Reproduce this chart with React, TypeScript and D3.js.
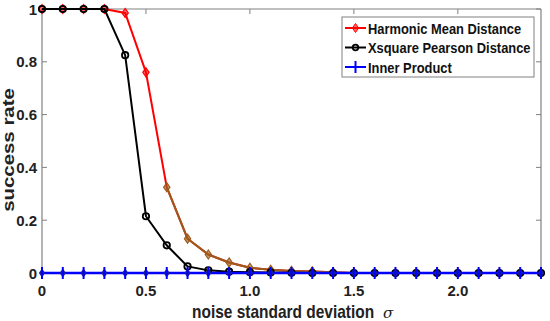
import React from 'react';
import * as d3 from 'd3';

const sigma = [0, 0.1, 0.2, 0.3, 0.4, 0.5, 0.6, 0.7, 0.8, 0.9, 1.0, 1.1, 1.2, 1.3, 1.4, 1.5, 1.6, 1.7, 1.8, 1.9, 2.0, 2.1, 2.2, 2.3, 2.4];
const harmonic = [1, 1, 1, 1, 0.985, 0.76, 0.325, 0.13, 0.07, 0.04, 0.02, 0.012, 0.008, 0.006, 0.003, 0, 0, 0, 0, 0, 0, 0, 0, 0, 0];
const xsquare = [1, 1, 1, 1, 0.825, 0.215, 0.105, 0.025, 0.01, 0.005, 0.003, 0.002, 0.001, 0, 0, 0, 0, 0, 0, 0, 0, 0, 0, 0, 0];
const inner = [0, 0, 0, 0, 0, 0, 0, 0, 0, 0, 0, 0, 0, 0, 0, 0, 0, 0, 0, 0, 0, 0, 0, 0, 0];
const xTicks = [0, 0.5, 1.0, 1.5, 2.0];
const xTickLabels = ['0', '0.5', '1.0', '1.5', '2.0'];
const yTicks = [0, 0.2, 0.4, 0.6, 0.8, 1];
const yTickLabels = ['0', '0.2', '0.4', '0.6', '0.8', '1'];
const legendLabels = ['Harmonic Mean Distance', 'Xsquare Pearson Distance', 'Inner Product'];

const W = 550;
const H = 321;
const font = '"Liberation Sans", Arial, sans-serif';
// the source image is slightly squashed horizontally
const squash = 0.86;

export default function App() {
  const x = d3.scaleLinear().domain([0, 2.4]).range([42, 541]);
  const y = d3.scaleLinear().domain([0, 1]).range([273, 9]);
  const line = d3.line<number>().x((_, i) => x(sigma[i])).y((d) => y(d));

  const hmPts = harmonic.map((v, i) => [x(sigma[i]), y(v)]);
  // the red curve looks brownish once it drops below ~0.35
  const hmLow = d3.line<number>().x((_, i) => x(sigma[i + 6])).y((d) => y(d))(harmonic.slice(6));

  const diamond = (cx: number, cy: number, r = 4.5) =>
    `M${cx},${cy - r}L${cx + r * 0.7},${cy}L${cx},${cy + r}L${cx - r * 0.7},${cy}Z`;

  const grey = '#808080';

  return (
    <svg width={W} height={H} style={{ position: 'absolute', left: 0, top: 0, background: '#fff' }}>
      {/* box */}
      <line x1={x(0)} x2={x(2.4)} y1={y(1)} y2={y(1)} stroke={grey} strokeWidth={1.2} />
      <line x1={x(2.4)} x2={x(2.4)} y1={y(1)} y2={y(0)} stroke={grey} strokeWidth={1.2} />
      <line x1={x(0)} x2={x(0)} y1={y(1)} y2={y(0)} stroke={grey} strokeWidth={1.2} />
      <line x1={x(0)} x2={x(2.4)} y1={y(0)} y2={y(0)} stroke={grey} strokeWidth={1.2} />
      {xTicks.map((t, i) => (
        <g key={'xt' + i}>
          <line x1={x(t)} x2={x(t)} y1={y(1)} y2={y(1) + 5} stroke={grey} />
          <text x={x(t)} y={296} textAnchor="middle" fontFamily={font} fontWeight="bold" fontSize={15} fill="#222">
            {xTickLabels[i]}
          </text>
        </g>
      ))}
      {yTicks.map((t, i) => (
        <g key={'yt' + i}>
          <line x1={x(0)} x2={x(0) + 5} y1={y(t)} y2={y(t)} stroke={grey} />
          <line x1={x(2.4)} x2={x(2.4) - 5} y1={y(t)} y2={y(t)} stroke={grey} />
          <text x={37} y={y(t) + 5.5} textAnchor="end" fontFamily={font} fontWeight="bold" fontSize={15} fill="#222">
            {yTickLabels[i]}
          </text>
        </g>
      ))}
      <text transform={`translate(192,318) scale(${squash},1)`} fontFamily={font} fontWeight="bold" fontSize={18} fill="#222">
        noise standard deviation
      </text>
      <text x={383} y={318} fontFamily='"DejaVu Serif", serif' fontStyle="italic" fontSize={15} fill="#222">
        σ
      </text>
      <text
        transform={`translate(14,150) rotate(-90) scale(1.2,1)`}
        textAnchor="middle"
        fontFamily={font}
        fontWeight="bold"
        fontSize={17}
        fill="#222"
      >
        success rate
      </text>

      {/* Harmonic Mean Distance */}
      <path d={line(harmonic) || ''} fill="none" stroke="#ff0000" strokeWidth={2} />
      <path d={hmLow || ''} fill="none" stroke="#9c5a1c" strokeWidth={2} />
      {hmPts.map(([cx, cy], i) => (
        <path key={'hm' + i} d={diamond(cx, cy)} fill={i >= 6 ? '#9c5a1c' : '#ff0000'} stroke={i >= 6 ? '#9c5a1c' : '#ff0000'} fillOpacity={0.6} strokeWidth={1.2} />
      ))}

      {/* Xsquare Pearson Distance */}
      <path d={line(xsquare) || ''} fill="none" stroke="#000" strokeWidth={2} />
      {xsquare.map((v, i) => (
        <circle key={'xs' + i} cx={x(sigma[i])} cy={y(v)} r={3.2} fill="none" stroke="#000" strokeWidth={1.8} />
      ))}

      {/* Inner Product */}
      <path d={line(inner) || ''} fill="none" stroke="#0000ff" strokeWidth={2.5} />
      {inner.map((v, i) => {
        const cx = x(sigma[i]);
        const cy = y(v);
        return (
          <g key={'ip' + i}>
            <path d={diamond(cx, cy)} fill="#1a1a9a" />
            <line x1={cx} x2={cx} y1={cy - 6} y2={cy + 6} stroke="#0000ff" strokeWidth={2} />
          </g>
        );
      })}

      {/* legend */}
      <rect x={342} y={17} width={192} height={60} fill="#fff" stroke={grey} strokeWidth={1} />
      {legendLabels.map((lab, i) => {
        const ly = 28 + i * 19.5;
        const color = ['#ff0000', '#000', '#0000ff'][i];
        return (
          <g key={'lg' + i}>
            <line x1={345} x2={366} y1={ly} y2={ly} stroke={color} strokeWidth={2} />
            {i === 0 && <path d={diamond(355.5, ly)} fill={color} fillOpacity={0.6} stroke={color} />}
            {i === 1 && <circle cx={355.5} cy={ly} r={2.8} fill="none" stroke={color} strokeWidth={1.8} />}
            {i === 2 && <line x1={355.5} x2={355.5} y1={ly - 6} y2={ly + 6} stroke={color} strokeWidth={2} />}
            <text transform={`translate(368,${ly + 5.5}) scale(${squash},1)`} fontFamily={font} fontWeight="bold" fontSize={15} fill="#111">
              {lab}
            </text>
          </g>
        );
      })}
    </svg>
  );
}
